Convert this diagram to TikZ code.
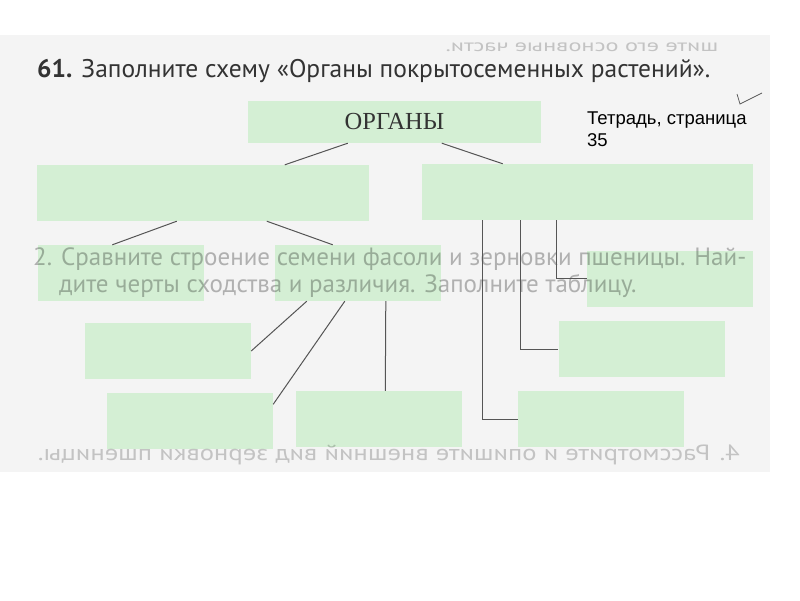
\documentclass[tikz,border=0pt]{standalone}
\usepackage{fontspec}
\setmainfont{Liberation Serif}
\setsansfont{PT Sans}
\newfontfamily\notefont{Liberation Sans}
\definecolor{boxgreen}{HTML}{D4EFD4}
\definecolor{pagegray}{HTML}{F4F4F4}
\definecolor{linegray}{HTML}{555555}
\definecolor{titlegray}{HTML}{333333}

\tikzset{
  organbox/.style={fill=boxgreen, minimum width=166pt, minimum height=56pt, inner sep=0pt},
  link/.style={draw=linegray, line width=1pt},
  ghost/.style={text=black, text opacity=0.28, font=\sffamily\fontsize{25}{25}\selectfont, inner sep=0pt, anchor=base west},
}

\begin{document}
\begin{tikzpicture}[x=1pt, y=-1pt]
  \useasboundingbox (0,0) rectangle (800,600);
  \fill[pagegray] (0,35) rectangle (770,472);

  \node[anchor=base west, inner sep=0pt, text=titlegray, font=\sffamily\fontsize{25.5}{25.5}\selectfont] (Title) at (37,77) {\textbf{61.} Заполните схему «Органы покрытосеменных растений».};

  \node[organbox, minimum width=293pt, minimum height=42pt, font=\fontsize{24.5}{24.5}\selectfont, text=titlegray] (Org) at (394.5,122) {ОРГАНЫ};
  \node[organbox, minimum width=332pt] (Veg) at (203,193) {};
  \node[organbox, minimum width=331pt] (Gen) at (587.5,192) {};
  \node[organbox] (Root) at (120.5,273) {};
  \node[organbox] (Shoot) at (358,273) {};
  \node[organbox] (Flower) at (670,278.5) {};
  \node[organbox] (Stem) at (168,351) {};
  \node[organbox] (Leaf) at (190,420.5) {};
  \node[organbox] (Bud) at (378.5,419) {};
  \node[organbox] (Fruit) at (641.5,349) {};
  \node[organbox] (Seed) at (601,419) {};

  % show-through from the other pages
  \node[ghost] (TaskA) at (33,265) {2. Сравните строение семени фасоли и зерновки пшеницы. Най-};
  \node[ghost] (TaskB) at (59,292) {дите черты сходства и различия. Заполните таблицу.};
  \node[ghost, anchor=center, xscale=-1.43, font=\sffamily\fontsize{17}{17}\selectfont, text opacity=0.2] (BackTop) at (582,47) {шите его основные части.};
  \node[ghost, anchor=center, xscale=-1.21, font=\sffamily\fontsize{22}{22}\selectfont, text opacity=0.2] (BackBottom) at (389,455) {4. Рассмотрите и опишите внешний вид зерновки пшеницы.};

  \draw[link] ([xshift=100pt]Org.south west) -- ([xshift=248pt]Veg.north west);
  \draw[link] ([xshift=194pt]Org.south west) -- ([xshift=81pt]Gen.north west);
  \draw[link] ([xshift=140pt]Veg.south west) -- ([xshift=75pt]Root.north west);
  \draw[link] ([xshift=230pt]Veg.south west) -- ([xshift=58pt]Shoot.north west);
  \draw[link] ([xshift=32pt]Shoot.south west) -- (Stem.east);
  \draw[link] ([xshift=70pt]Shoot.south west) -- ([yshift=-12pt]Leaf.north east);
  \draw[link] ([xshift=111pt]Shoot.south west) -- ([xshift=90pt]Bud.north west);
  \draw[link] ([xshift=135pt]Gen.south west) |- (Flower.west);
  \draw[link] ([xshift=99pt]Gen.south west) |- (Fruit.west);
  \draw[link] ([xshift=61pt]Gen.south west) |- (Seed.west);

  \node[anchor=base west, inner sep=0pt, font=\notefont\fontsize{18.5}{18.5}\selectfont] (NoteA) at (587,124) {Тетрадь, страница};
  \node[anchor=base west, inner sep=0pt, font=\notefont\fontsize{18.5}{18.5}\selectfont] (NoteB) at (587,146) {35};
  \draw[linegray, line width=0.7pt] (737,94) -- (740,104) -- (762,93);
\end{tikzpicture}
\end{document}
